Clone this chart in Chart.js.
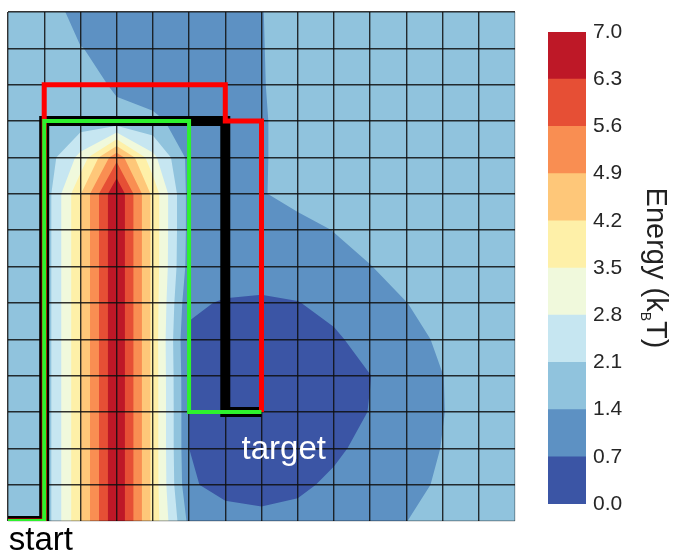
<!DOCTYPE html>
<html>
<head>
<meta charset="utf-8">
<script src="https://cdn.jsdelivr.net/npm/chart.js@4/dist/chart.umd.min.js"></script>
<style>
  html, body { margin: 0; padding: 0; background: #fff; }
  #wrap { position: relative; width: 676px; height: 554px; }
  #main { position: absolute; left: 0; top: 0; }
  #bar { position: absolute; left: 520px; top: 0; }
</style>
</head>
<body>
<div id="wrap">
  <canvas id="main" width="676" height="554"></canvas>
  <canvas id="bar" width="156" height="554"></canvas>
</div>
<script>
// energy (kBT) on the grid nodes, top row first (y = 14 ... 0), columns x = 0 ... 14
var energyRows = [
    [1.75, 1.75, 1.15, 1.05, 1.00, 1.00, 1.05, 1.38, 1.70, 1.70, 1.70, 1.70, 1.70, 1.70, 1.70],
    [1.75, 1.70, 1.42, 1.20, 1.05, 1.00, 1.00, 1.37, 1.70, 1.70, 1.70, 1.70, 1.70, 1.70, 1.70],
    [1.75, 1.70, 1.70, 1.30, 1.15, 1.10, 1.05, 1.36, 1.70, 1.70, 1.70, 1.70, 1.70, 1.70, 1.70],
    [1.75, 1.70, 1.70, 1.60, 1.50, 1.20, 1.05, 1.33, 1.70, 1.70, 1.70, 1.70, 1.70, 1.70, 1.70],
    [1.75, 1.65, 3.00, 5.40, 3.00, 1.20, 1.10, 1.33, 1.70, 1.70, 1.70, 1.70, 1.70, 1.70, 1.70],
    [1.75, 1.60, 4.15, 6.98, 4.00, 1.15, 1.10, 1.34, 1.70, 1.70, 1.70, 1.70, 1.70, 1.70, 1.70],
    [1.75, 1.60, 4.15, 6.98, 4.00, 1.15, 1.10, 1.15, 1.10, 1.42, 1.70, 1.70, 1.70, 1.70, 1.70],
    [1.75, 1.60, 4.15, 6.98, 4.00, 1.10, 1.05, 1.05, 1.05, 1.10, 1.38, 1.70, 1.70, 1.70, 1.70],
    [1.75, 1.60, 4.15, 6.98, 4.00, 0.80, 0.65, 0.60, 0.68, 0.90, 1.15, 1.39, 1.70, 1.70, 1.70],
    [1.75, 1.60, 4.15, 6.98, 4.00, 0.60, 0.40, 0.35, 0.40, 0.60, 0.95, 1.10, 1.55, 1.70, 1.75],
    [1.75, 1.60, 4.15, 6.98, 4.00, 0.68, 0.30, 0.20, 0.25, 0.45, 0.69, 1.10, 1.39, 1.70, 1.75],
    [1.75, 1.60, 4.15, 6.98, 4.00, 0.70, 0.25, 0.10, 0.20, 0.45, 0.72, 1.10, 1.38, 1.70, 1.75],
    [1.75, 1.60, 4.15, 6.98, 4.00, 0.70, 0.35, 0.25, 0.30, 0.55, 0.95, 1.10, 1.42, 1.70, 1.75],
    [1.75, 1.60, 4.15, 6.98, 4.00, 0.78, 0.50, 0.40, 0.55, 0.85, 1.05, 1.10, 1.55, 1.70, 1.75],
    [1.75, 1.60, 4.15, 6.98, 4.00, 1.20, 0.95, 0.90, 0.95, 1.05, 1.15, 1.39, 1.70, 1.75, 1.75]
];

// contour levels and band colours (RdYlBu reversed)
var levels = [0.0, 0.7, 1.4, 2.1, 2.8, 3.5, 4.2, 4.9, 5.6, 6.3, 7.0];
var levelColors = ['#3b55a5', '#5d91c3', '#90c3dd', '#c6e6f1', '#f0f9dc',
                   '#fef0a8', '#fec779', '#f98e52', '#e64f35', '#be1827'];
var cbTicks = [0.0, 0.7, 1.4, 2.1, 2.8, 3.5, 4.2, 4.9, 5.6, 6.3, 7.0];

// paths from start (0,0) to target (7,3), grid units
var blackPath = [[0, 0], [1, 0], [1, 11], [6, 11], [6, 3], [7, 3]];
var redPath = [[0, 0], [1, 0], [1, 12], [6, 12], [6, 11], [7, 11], [7, 3]];
var greenPath = [[0, 0], [1, 0], [1, 11], [5, 11], [5, 3], [7, 3]];

var FONT = '"Liberation Sans", Arial, sans-serif';
Chart.defaults.font.family = FONT;

function energyAt(i, j) {
    return energyRows[energyRows.length - 1 - j][i];
}

// keep the part of a polygon where v >= lo (values interpolated along the edges)
function clipAbove(poly, lo) {
    var out = [];
    for (var n = 0; n < poly.length; n++) {
        var a = poly[n], b = poly[(n + 1) % poly.length];
        var ina = a.v >= lo, inb = b.v >= lo;
        if (ina) out.push(a);
        if (ina !== inb) {
            var t = (lo - a.v) / (b.v - a.v);
            out.push({ x: a.x + t * (b.x - a.x), y: a.y + t * (b.y - a.y), v: lo });
        }
    }
    return out;
}

// filled contours, painted band over band under the grid
var contourPlugin = {
    id: 'contour',
    beforeDraw: function (chart) {
        var ctx = chart.ctx, xs = chart.scales.x, ys = chart.scales.y;
        var n = energyRows.length - 1;
        ctx.save();
        for (var k = 0; k < levelColors.length; k++) {
            ctx.beginPath();
            for (var j = 0; j < n; j++) {
                for (var i = 0; i < n; i++) {
                    var quad = [
                        { x: i, y: j, v: energyAt(i, j) },
                        { x: i + 1, y: j, v: energyAt(i + 1, j) },
                        { x: i + 1, y: j + 1, v: energyAt(i + 1, j + 1) },
                        { x: i, y: j + 1, v: energyAt(i, j + 1) }
                    ];
                    var poly = clipAbove(quad, levels[k]);
                    if (poly.length < 3) continue;
                    ctx.moveTo(xs.getPixelForValue(poly[0].x), ys.getPixelForValue(poly[0].y));
                    for (var p = 1; p < poly.length; p++) {
                        ctx.lineTo(xs.getPixelForValue(poly[p].x), ys.getPixelForValue(poly[p].y));
                    }
                    ctx.closePath();
                }
            }
            ctx.fillStyle = levelColors[k];
            ctx.fill();
        }
        ctx.restore();
    }
};

var labelPlugin = {
    id: 'labels',
    afterDraw: function (chart) {
        var ctx = chart.ctx, xs = chart.scales.x, ys = chart.scales.y;
        ctx.save();
        ctx.font = '33px ' + FONT;
        ctx.textAlign = 'left';
        ctx.textBaseline = 'alphabetic';
        ctx.fillStyle = '#ffffff';
        ctx.fillText('target', xs.getPixelForValue(6.45), ys.getPixelForValue(1.7));
        ctx.fillStyle = '#000000';
        ctx.fillText('start', xs.getPixelForValue(0.02), ys.getPixelForValue(-0.8));
        ctx.restore();
    }
};

function pathDataset(path, color, width) {
    return {
        data: path.map(function (p) { return { x: p[0], y: p[1] }; }),
        borderColor: color,
        borderWidth: width,
        borderJoinStyle: 'miter',
        borderCapStyle: 'butt',
        pointRadius: 0,
        tension: 0,
        fill: false,
        clip: 0
    };
}

function gridAxis(edgeValue) {
    return {
        type: 'linear',
        min: 0,
        max: 14,
        ticks: { stepSize: 1, display: false },
        grid: {
            drawTicks: false,
            lineWidth: 1.4,
            color: function (c) {
                return c.tick && c.tick.value === edgeValue ? 'rgba(0,0,0,0.25)' : 'rgba(15,15,15,0.85)';
            }
        },
        border: { display: false }
    };
}

// first dataset is drawn on top
new Chart(document.getElementById('main'), {
    type: 'line',
    data: {
        datasets: [
            pathDataset(greenPath, '#2ef22e', 4),
            pathDataset(redPath, '#ff0000', 5),
            pathDataset(blackPath, '#000000', 10)
        ]
    },
    options: {
        responsive: false,
        animation: false,
        layout: { padding: { left: 8, top: 12, right: 161, bottom: 33 } },
        plugins: { legend: { display: false }, tooltip: { enabled: false } },
        scales: {
            x: gridAxis(14),
            y: gridAxis(0)
        }
    },
    plugins: [contourPlugin, labelPlugin]
});

// colour bar title with subscript B
var energyTitle = {
    id: 'energyTitle',
    afterDraw: function (chart) {
        var ctx = chart.ctx, a = chart.chartArea;
        var big = '29px ' + FONT, small = '14px ' + FONT;
        ctx.save();
        ctx.font = big;
        var w1 = ctx.measureText('Energy (k').width;
        var w3 = ctx.measureText('T)').width;
        ctx.font = small;
        var w2 = ctx.measureText('B').width;
        var x0 = -(w1 + w2 + w3) / 2;
        ctx.translate(a.right + 61, (a.top + a.bottom) / 2);
        ctx.rotate(Math.PI / 2);
        ctx.fillStyle = '#222222';
        ctx.textBaseline = 'alphabetic';
        ctx.font = big;
        ctx.fillText('Energy (k', x0, 0);
        ctx.font = small;
        ctx.fillText('B', x0 + w1, 6);
        ctx.font = big;
        ctx.fillText('T)', x0 + w1 + w2, 0);
        ctx.restore();
    }
};

new Chart(document.getElementById('bar'), {
    type: 'bar',
    data: {
        labels: [''],
        datasets: levelColors.map(function (c, k) {
            return {
                data: [[levels[k], levels[k + 1]]],
                backgroundColor: c,
                borderWidth: 0,
                barPercentage: 1,
                categoryPercentage: 1,
                grouped: false
            };
        })
    },
    options: {
        responsive: false,
        animation: false,
        layout: { padding: { left: 28, top: 32, right: 0, bottom: 50 } },
        plugins: { legend: { display: false }, tooltip: { enabled: false } },
        scales: {
            x: { display: false },
            y: {
                position: 'right',
                min: 0,
                max: 7,
                afterBuildTicks: function (axis) {
                    axis.ticks = cbTicks.map(function (v) { return { value: v }; });
                },
                afterFit: function (axis) { axis.width = 90; },
                ticks: {
                    padding: 7,
                    color: '#262626',
                    font: { size: 21 },
                    callback: function (v) { return v.toFixed(1); }
                },
                grid: { display: false, drawTicks: false },
                border: { display: false }
            }
        }
    },
    plugins: [energyTitle]
});
</script>
</body>
</html>
